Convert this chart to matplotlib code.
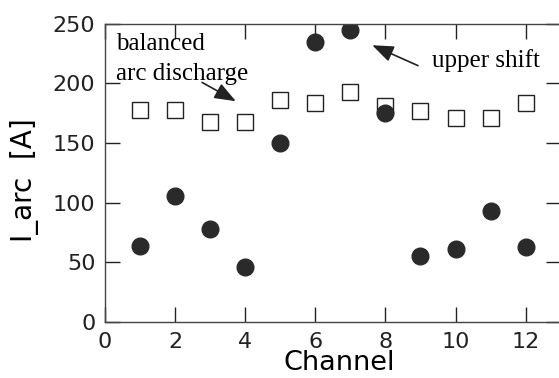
import matplotlib
matplotlib.use("Agg")
from matplotlib import pyplot as plt

channels = [1, 2, 3, 4, 5, 6, 7, 8, 9, 10, 11, 12]
upper_shift = [64, 106, 78, 46, 150, 235, 245, 175, 55, 61, 93, 63]
balanced = [178, 178, 168, 168, 186, 184, 193, 181, 177, 171, 171, 184]

fig = plt.figure(figsize=(5.59, 3.78), dpi=100)
ax = fig.add_axes([0.188, 0.148, 0.815, 0.789])

ax.plot(channels, balanced, "s", markersize=12, markerfacecolor="white",
        markeredgecolor="#222222", markeredgewidth=1.0)
ax.plot(channels, upper_shift, "o", markersize=12, color="#2a2a2a")

ax.set_xlim(0, 13)
ax.set_ylim(0, 250)
ax.set_xticks([0, 2, 4, 6, 8, 10, 12])
ax.set_yticks([0, 50, 100, 150, 200, 250])
ax.tick_params(direction="in", length=11, width=1, labelsize=16,
               top=True, right=True, pad=7, colors="#222222")
for s in ax.spines.values():
    s.set_linewidth(1)
    s.set_color("#444444")

ax.set_xlabel("Channel", fontsize=19.5)
ax.xaxis.set_label_coords(0.515, -0.095)
ax.set_ylabel("I_arc  [A]", fontsize=20)
ax.yaxis.set_label_coords(-0.145, 0.475)

serif = "Liberation Serif"
ax.text(0.025, 0.913, "balanced", fontsize=18, family=serif, transform=ax.transAxes)
ax.text(0.025, 0.81, "arc discharge", fontsize=18, family=serif, transform=ax.transAxes)
ax.text(0.717, 0.856, "upper shift", fontsize=18, family=serif, transform=ax.transAxes)

arrow = dict(arrowstyle="-|>,head_length=1.3,head_width=0.5", color="#222222", lw=1.2)
ax.annotate("", xy=(3.8, 184), xytext=(2.7, 202), arrowprops=arrow)
ax.annotate("", xy=(7.55, 233), xytext=(9.0, 214), arrowprops=arrow)

fig.savefig("out.png", dpi=100)
